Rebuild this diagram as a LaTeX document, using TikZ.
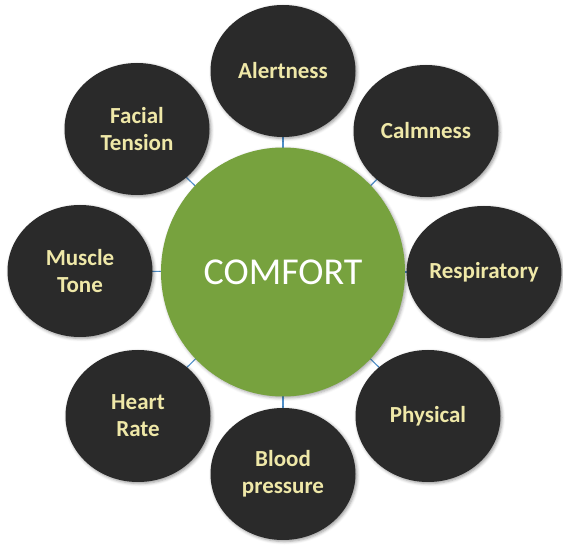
\documentclass[tikz,border=0pt]{standalone}
\usepackage{fontspec}
\setmainfont{Carlito}
\usetikzlibrary{shapes.geometric,shadows.blur,backgrounds}
\definecolor{darkfill}{HTML}{2A2A2A}
\definecolor{greenfill}{HTML}{77A23E}
\definecolor{paletext}{HTML}{EFE8A8}
\definecolor{linkblue}{HTML}{4F8FC9}
\tikzset{
  outerbub/.style={ellipse, fill=darkfill, minimum width=145pt, minimum height=132pt,
    inner sep=0pt, align=center, text=paletext, font=\fontsize{23}{27}\selectfont\bfseries,
    blur shadow={shadow xshift=1.5pt, shadow yshift=-1.5pt, shadow blur radius=3pt, shadow opacity=40}},
  centerbub/.style={ellipse, fill=greenfill, minimum width=244pt, minimum height=249pt,
    inner sep=0pt, text=white, font=\fontsize{38}{40}\selectfont,
    blur shadow={shadow xshift=1.5pt, shadow yshift=-1.5pt, shadow blur radius=3pt, shadow opacity=35}},
  link/.style={draw=linkblue, line width=1.2pt}
}
\begin{document}
\begin{tikzpicture}[x=1pt,y=-1pt]
\useasboundingbox (0,0) rectangle (563,553);
\node[centerbub] (comfort) at (283,272) {COMFORT};
\node[outerbub] (alert) at (283,71) {Alertness};
\node[outerbub] (calm) at (426,131) {Calmness};
\node[outerbub] (resp) at (484,272) {Respiratory};
\node[outerbub] (phys) at (428,416) {Physical};
\node[outerbub] (blood) at (283,474) {Blood\\pressure};
\node[outerbub] (heart) at (138,416) {Heart\\Rate};
\node[outerbub] (muscle) at (80,271) {Muscle\\Tone};
\node[outerbub] (facial) at (137,129) {Facial\\Tension};
\begin{scope}[on background layer]
\foreach \n in {alert,calm,resp,phys,blood,heart,muscle,facial}
  \draw[link] (comfort.center) -- (\n.center);
\end{scope}
\end{tikzpicture}
\end{document}
